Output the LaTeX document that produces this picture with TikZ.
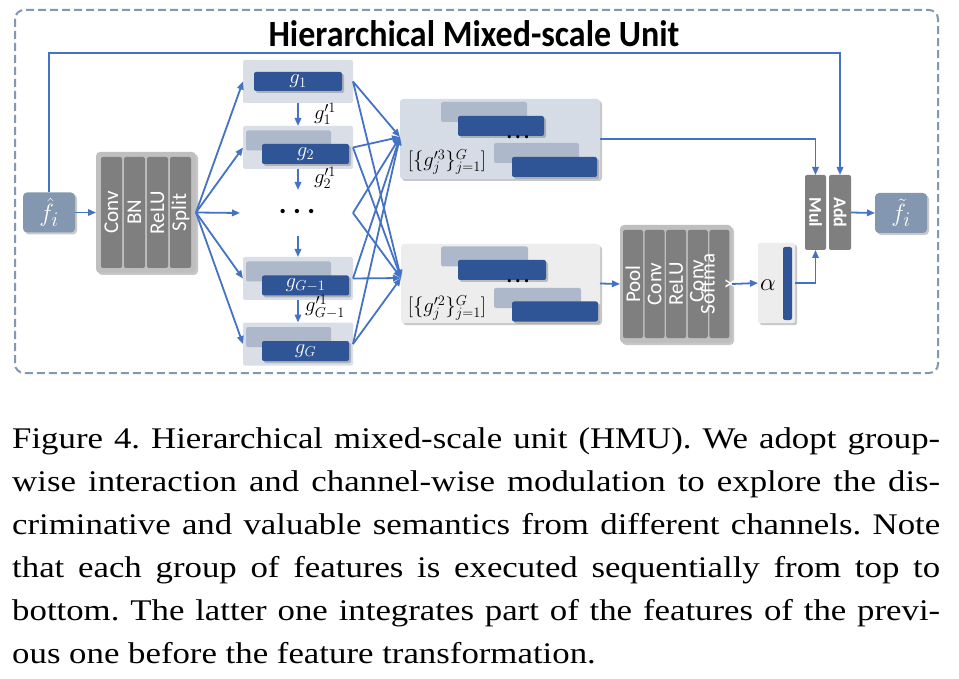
\documentclass[tikz,border=0pt]{standalone}
\usepackage{fontspec}
\usepackage{amsmath}
\setmainfont{Liberation Serif}
\newfontfamily\calfont{Carlito}
\newfontfamily\capfont{Liberation Serif}[FakeStretch=1.16]
\usetikzlibrary{arrows.meta,shadows}
\definecolor{arrblue}{RGB}{68,114,196}
\definecolor{darkbar}{RGB}{47,85,151}
\definecolor{lightbar}{RGB}{173,185,202}
\definecolor{panel}{RGB}{217,222,231}
\definecolor{bigup}{RGB}{214,220,229}
\definecolor{biglo}{RGB}{237,237,237}
\definecolor{blockout}{RGB}{191,191,191}
\definecolor{blockin}{RGB}{127,127,127}
\definecolor{fbox}{RGB}{132,151,176}
\tikzset{
  sh/.style={drop shadow={shadow xshift=2pt,shadow yshift=-2pt,opacity=0.3,fill=black!70}},
  rbox/.style={inner sep=0pt,outer sep=0pt,rounded corners=2pt},
  gpanel/.style={rbox,fill=panel,minimum width=110pt,minimum height=43pt},
  dbar/.style={rbox,fill=darkbar,sh,minimum height=20pt,text=white,font=\fontsize{20}{20}\selectfont},
  lbar/.style={rbox,fill=lightbar,minimum height=20pt},
  col/.style={rbox,fill=blockin,minimum width=21pt,text=white,font=\calfont\fontsize{21}{21}\selectfont},
  fnode/.style={rbox,rounded corners=4pt,fill=fbox,sh,text=white,minimum width=52pt,minimum height=40pt,font=\fontsize{28}{28}\selectfont},
  arr/.style={draw=arrblue,line width=1.8pt,-{Triangle[length=8pt,width=6.5pt]}},
  lab/.style={inner sep=0pt,font=\fontsize{20}{20}\selectfont},
  bigdots/.style={inner sep=0pt,font=\fontsize{18}{18}\selectfont},
  smalldots/.style={inner sep=0pt,font=\fontsize{13}{13}\selectfont},
}
\begin{document}
\begin{tikzpicture}[x=1pt,y=-1pt]
\useasboundingbox (0,0) rectangle (959,679);
\fill[white] (0,0) rectangle (959,679);
% outer border
\draw[fbox,line width=2pt,dash pattern=on 8pt off 4pt,rounded corners=9pt] (15,10) rectangle (938,373);
% title
\node[font=\calfont\bfseries\fontsize{33}{33}\selectfont,inner sep=0pt] (title) at (474,34) {\scalebox{1.03}[1.12]{Hierarchical Mixed-scale Unit}};

% input / output
\node[fnode] (fhat) at (49,212.5) {$\hat{f}_i$};
\node[fnode] (ftil) at (901,213) {$\tilde{f}_i$};

% conv block
\node[rbox,rounded corners=4pt,fill=blockout,sh,minimum width=100pt,minimum height=121pt] (conv) at (146,212.5) {};
\node[col,minimum height=111pt] (c1) at (111.5,212.5) {\rotatebox{90}{Conv}};
\node[col,minimum height=111pt] (c2) at (134.5,212.5) {\rotatebox{90}{BN}};
\node[col,minimum height=111pt] (c3) at (157.5,212.5) {\rotatebox{90}{ReLU}};
\node[col,minimum height=111pt] (c4) at (180.5,212.5) {\rotatebox{90}{Split}};

% g panels
\node[gpanel] (p1) at (298,81.5) {};
\node[dbar,minimum width=88pt,minimum height=19pt] (d1) at (298,81.5) {$g_1$};
\node[gpanel] (p2) at (298,147.5) {};
\node[lbar,minimum width=85pt] (l2) at (288.5,140.5) {};
\node[dbar,minimum width=87pt] (d2) at (305.5,154) {$g_2$};
\node[bigdots] (dots) at (297,213) {\textbullet\hspace{8pt}\textbullet\hspace{8pt}\textbullet};
\node[gpanel] (p3) at (298,278.5) {};
\node[lbar,minimum width=85pt] (l3) at (288.5,271.5) {};
\node[dbar,minimum width=87pt] (d3) at (305.5,285.5) {$g_{G-1}$};
\node[gpanel] (p4) at (298,344) {};
\node[lbar,minimum width=85pt] (l4) at (288.5,337) {};
\node[dbar,minimum width=87pt] (d4) at (305.5,351) {$g_{G}$};

\coordinate (v2e) at (298,190);
\coordinate (v3s) at (298,236);
\draw[arr] (p1.south) -- (p2.north);
\draw[arr] (p2.south) -- (v2e);
\draw[arr] (v3s) -- (p3.north);
\draw[arr] (p3.south) -- (p4.north);
\node[lab] (lg1) at (325,114) {$g'^{1}_{1}$};
\node[lab] (lg2) at (325,178) {$g'^{1}_{2}$};
\node[lab] (lg3) at (325,307) {$g'^{1}_{G-1}$};

% split arrows
\coordinate (dtgt) at (240,213);
\draw[arr] (conv.east) -- (p1.west);
\draw[arr] (conv.east) -- (p2.west);
\draw[arr] (conv.east) -- (dtgt);
\draw[arr] (conv.east) -- (p3.west);
\draw[arr] (conv.east) -- (p4.west);

% big boxes
\node[rbox,rounded corners=3pt,fill=bigup,sh,minimum width=200pt,minimum height=80pt] (up) at (500,139) {};
\node[lbar,minimum width=86pt] at (484,112) {};
\node[dbar,minimum width=86pt] at (501,126) {};
\node[smalldots] at (518,139) {\textbullet\hspace{4pt}\textbullet\hspace{4pt}\textbullet};
\node[lbar,minimum width=85pt] at (536.5,153) {};
\node[dbar,minimum width=85pt] at (554.5,167) {};
\node[lab] (uplab) at (447,162) {$[\{g'^{3}_{j}\}^{G}_{j=1}]$};

\node[rbox,rounded corners=3pt,fill=biglo,sh,minimum width=199pt,minimum height=79pt] (lo) at (500.5,283.5) {};
\node[lbar,minimum width=87pt] at (484.5,256.5) {};
\node[dbar,minimum width=88pt] at (502,270) {};
\node[smalldots] at (518,283) {\textbullet\hspace{4pt}\textbullet\hspace{4pt}\textbullet};
\node[lbar,minimum width=87pt] at (537.5,298) {};
\node[dbar,minimum width=86pt] at (555,311.5) {};
\node[lab] (lolab) at (447,308) {$[\{g'^{2}_{j}\}^{G}_{j=1}]$};

% cross connectors
\coordinate (dsrc) at (353,213);
\coordinate (ut) at (400,137);
\coordinate (lt) at (401,278);
\foreach \s in {p1,p2,dsrc,p3,p4}{
  \draw[arr] (\s.east) -- (ut);
  \draw[arr] (\s.east) -- (lt);
}

% pool block
\node[rbox,rounded corners=4pt,fill=blockout,sh,minimum width=112pt,minimum height=118pt] (pool) at (676,284) {};
\node[col,minimum width=20pt,minimum height=108pt] (q1) at (633,284) {\rotatebox{90}{Pool}};
\node[col,minimum width=20pt,minimum height=108pt] (q2) at (654.6,284) {\rotatebox{90}{Conv}};
\node[col,minimum width=20pt,minimum height=108pt] (q3) at (676.2,284) {\rotatebox{90}{ReLU}};
\node[col,minimum width=20pt,minimum height=108pt] (q4) at (697.8,284) {};
\node[col,minimum width=20pt,minimum height=108pt] (q5) at (719.4,284) {};
\node[text=white,font=\calfont\fontsize{21}{21}\selectfont,inner sep=0pt] (q4t) at (697,281) {\rotatebox{90}{Conv}};
\node[text=white,font=\calfont\fontsize{21}{21}\selectfont,inner sep=0pt,rotate=90,align=center] (q5t) at (718,284) {Softma\\x};

% alpha box
\node[rbox,fill=biglo,sh,minimum width=37pt,minimum height=80pt] (al) at (776.5,283) {};
\node[rbox,fill=darkbar,minimum width=9pt,minimum height=73pt] (albar) at (787.5,283.5) {};
\node[font=\fontsize{28}{28}\selectfont,inner sep=0pt] (alpha) at (768,285) {$\alpha$};

% mul add
\node[col,minimum width=21pt,minimum height=75pt,font=\calfont\bfseries\fontsize{18}{18}\selectfont] (mul) at (815.5,212.5) {\rotatebox{-90}{Mul}};
\node[col,minimum width=22pt,minimum height=75pt,font=\calfont\bfseries\fontsize{18}{18}\selectfont] (add) at (840,212.5) {\rotatebox{-90}{Add}};

% right side connectors
\draw[arr] (fhat.north) -- (49,53) -| (add.north);
\draw[arr] (up.east) -| (mul.north);
\draw[arr] (lo.east) -- (pool.west);
\draw[arr] (pool.east) -- (al.west);
\draw[arr] (al.east) -| (mul.south);
\draw[arr] (add.east) -- (ftil.west);
\draw[arr] (fhat.east) -- (conv.west);

% caption
\begin{scope}[every node/.style={anchor=base west,inner sep=0pt,font=\capfont\frenchspacing\fontsize{30}{30}\selectfont}]
\node (cap1) at (12,448) {\makebox[928pt][s]{Figure 4. Hierarchical mixed-scale unit (HMU). We adopt group-}};
\node (cap2) at (12,491) {\makebox[928pt][s]{wise interaction and channel-wise modulation to explore the dis-}};
\node (cap3) at (12,534) {\makebox[928pt][s]{criminative and valuable semantics from different channels. Note}};
\node (cap4) at (12,577) {\makebox[928pt][s]{that each group of features is executed sequentially from top to}};
\node (cap5) at (12,620) {\makebox[928pt][s]{bottom. The latter one integrates part of the features of the previ-}};
\node (cap6) at (12,663) {ous one before the feature transformation.};
\end{scope}
\end{tikzpicture}
\end{document}
